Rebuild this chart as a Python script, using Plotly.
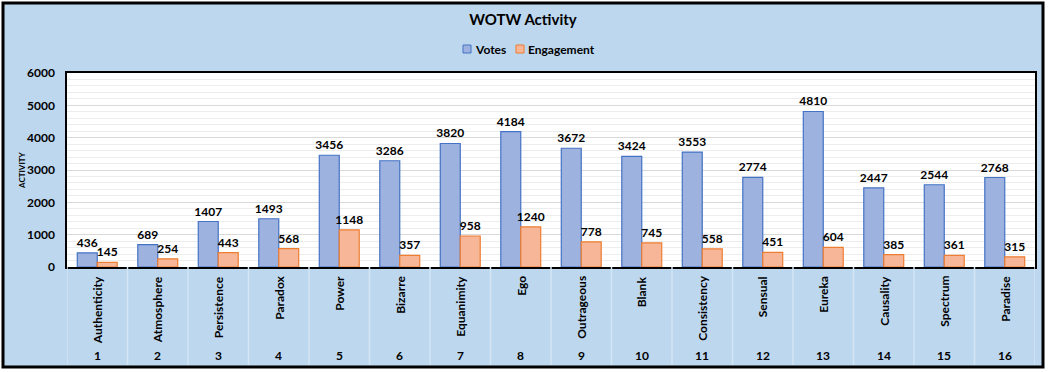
import plotly.graph_objects as go

categories = ["Authenticity", "Atmosphere", "Persistence", "Paradox", "Power", "Bizarre",
              "Equanimity", "Ego", "Outrageous", "Blank", "Consistency", "Sensual",
              "Eureka", "Causality", "Spectrum", "Paradise"]
numbers = [str(i) for i in range(1, 17)]
votes = [436, 689, 1407, 1493, 3456, 3286, 3820, 4184, 3672, 3424, 3553, 2774, 4810, 2447, 2544, 2768]
engagement = [145, 254, 443, 568, 1148, 357, 958, 1240, 778, 745, 558, 451, 604, 385, 361, 315]
series_names = ["Votes", "Engagement"]

W, H = 1051, 372
L, R, T, B = 67, 16, 73, 105
pw, ph = W - L - R, H - T - B

def px(x):
    return (x - L) / pw

def py(y):
    return (H - B - y) / ph

FONT = "Lato"
BLUE_FILL, BLUE_LINE = "#9EB2E0", "#4472C4"
ORANGE_FILL, ORANGE_LINE = "#F7B697", "#ED7D31"

fig = go.Figure()
fig.add_trace(go.Bar(
    x=categories, y=votes, name=series_names[0], showlegend=False,
    marker=dict(color=BLUE_FILL, line=dict(color=BLUE_LINE, width=1.2)),
    text=[str(v) for v in votes], textposition="outside", cliponaxis=False,
    textfont=dict(family=FONT, size=12, color="black", weight="bold"),
))
fig.add_trace(go.Bar(
    x=categories, y=engagement, name=series_names[1], showlegend=False,
    marker=dict(color=ORANGE_FILL, line=dict(color=ORANGE_LINE, width=1.2)),
    text=[str(v) for v in engagement], textposition="outside", cliponaxis=False,
    textfont=dict(family=FONT, size=12, color="black", weight="bold"),
))

shapes = [
    dict(type="rect", xref="paper", yref="paper", x0=px(3), x1=px(1043), y0=py(367), y1=py(3),
         fillcolor="#BDD7EE", line=dict(color="black", width=3), layer="below"),
    dict(type="rect", xref="paper", yref="paper", x0=0, x1=1, y0=0, y1=1,
         fillcolor="white", line=dict(width=0), layer="below"),
]
for i in range(len(categories) + 1):
    shapes.append(dict(type="line", xref="x", yref="paper", x0=i - 0.5, x1=i - 0.5,
                       y0=0, y1=py(365), line=dict(color="#D5E5F3", width=1.5)))

annotations = [
    dict(text="ACTIVITY", xref="paper", yref="paper", x=px(22), y=py(170), textangle=-90,
         showarrow=False, font=dict(family=FONT, size=8, color="black", weight="bold"),
         xanchor="center", yanchor="middle"),
]
for c, n in zip(categories, numbers):
    annotations.append(dict(text=c, xref="x", yref="paper", x=c, y=py(274), textangle=-90,
                            showarrow=False, xanchor="center", yanchor="top",
                            font=dict(family=FONT, size=12, color="black", weight="bold")))
    annotations.append(dict(text=n, xref="x", yref="paper", x=c, y=py(355),
                            showarrow=False, xanchor="center", yanchor="middle",
                            font=dict(family=FONT, size=12, color="black", weight="bold")))

# custom legend (small square swatches as in the reference)
legend_items = [(series_names[0], BLUE_FILL, BLUE_LINE, 463),
                (series_names[1], ORANGE_FILL, ORANGE_LINE, 516)]
for name, fill, line, x in legend_items:
    shapes.append(dict(type="rect", xref="paper", yref="paper", x0=px(x), x1=px(x + 8),
                       y0=py(53), y1=py(45), fillcolor=fill, line=dict(color=line, width=1)))
    annotations.append(dict(text=name, xref="paper", yref="paper", x=px(x + 10), y=py(49),
                            showarrow=False, xanchor="left", yanchor="middle",
                            font=dict(family=FONT, size=12, color="black", weight="bold")))

fig.update_layout(
    width=W, height=H,
    margin=dict(l=L, r=R, t=T, b=B),
    paper_bgcolor="white", plot_bgcolor="white",
    barmode="group", bargap=0.34, bargroupgap=0,
    uniformtext=dict(minsize=12, mode="show"),
    title=dict(text="<b>WOTW Activity</b>", x=523 / W, xref="container", xanchor="center",
               y=1 - 20 / H, yref="container", yanchor="middle",
               font=dict(family=FONT, size=15, color="black")),
    showlegend=False,
    xaxis=dict(type="category", showticklabels=False, showgrid=False, ticks="",
               showline=True, linecolor="black", linewidth=1.5, mirror=True,
               range=[-0.5, len(categories) - 0.5]),
    yaxis=dict(range=[0, 6000], dtick=1000, showgrid=True, gridcolor="#D9D9D9", gridwidth=1,
               minor=dict(dtick=200, showgrid=True, gridcolor="#EDEDED", gridwidth=1),
               showline=True, linecolor="black", linewidth=1.5, mirror=True,
               tickfont=dict(family=FONT, size=12, color="black", weight="bold"),
               ticks="", ticklabelstandoff=8, zeroline=False),
    shapes=shapes, annotations=annotations,
)

fig.write_html("out.html", config={"displayModeBar": False},
               post_script="document.body.style.margin='0';document.body.style.overflow='hidden';")
